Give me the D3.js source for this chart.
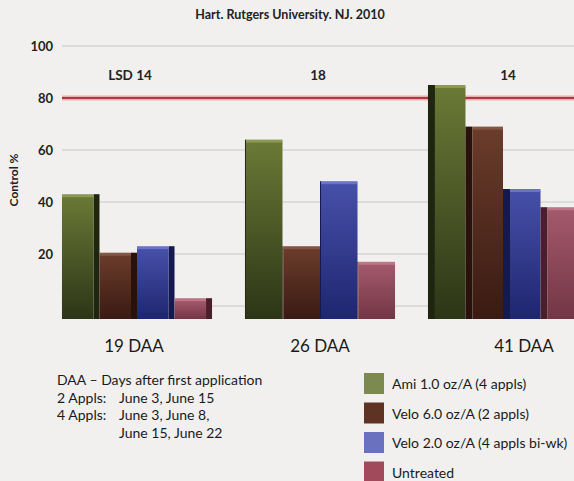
<!DOCTYPE html>
<html><head><meta charset="utf-8">
<script src="https://cdn.jsdelivr.net/npm/d3@7"></script>
<style>body{margin:0;background:#f1f0ee;}svg{display:block;font-family:Lato,"Open Sans",sans-serif;}</style>
</head><body><svg id="c" width="574" height="481"></svg>
<script>
const groups = ["19 DAA", "26 DAA", "41 DAA"];
const series = ["Ami 1.0 oz/A (4 appls)", "Velo 6.0 oz/A (2 appls)", "Velo 2.0 oz/A (4 appls bi-wk)", "Untreated"];
const ami = [43, 64, 85];
const velo6 = [20.5, 23, 69];
const velo2 = [23, 48, 45];
const untreated = [3, 17, 38];
const lsd = ["LSD 14", "18", "14"];
const yTicks = [20, 40, 60, 80, 100];
const refLine = 80;
const notes = [["DAA \u2013 Days after first application", ""], ["2 Appls:", "June 3, June 15"], ["4 Appls:", "June 3, June 8,"], ["", "June 15, June 22"]];

const values = [ami, velo6, velo2, untreated];
const front = [["#6a7936", "#2c3516"], ["#6a3c2b", "#3a1a12"], ["#4650a8", "#1e2670"], ["#a4596c", "#723646"]];
const sideC = ["#1f260f", "#2a120c", "#141a50", "#4a1e2a"];
const topC = ["#8a9a55", "#855644", "#6a74c4", "#bd7587"];
const legendC = ["#7d8a4f", "#5e3324", "#6a72c0", "#a14a5b"];

const svg = d3.select("#c");
const y = d3.scaleLinear().domain([0, 100]).range([306, 46]);
const base = 319;
const x0 = d3.scaleBand().domain(groups).range([45.5, 594.5]).paddingInner(0.18).paddingOuter(0.09);
const x1 = d3.scaleBand().domain(series).range([0, x0.bandwidth()]).padding(0);

const defs = svg.append("defs");
front.forEach((c, i) => {
  const g = defs.append("linearGradient").attr("id", "g" + i).attr("x1", 0).attr("y1", 0).attr("x2", 0).attr("y2", 1);
  g.append("stop").attr("offset", 0).attr("stop-color", c[0]);
  g.append("stop").attr("offset", 1).attr("stop-color", c[1]);
});

svg.append("text").attr("x", 290).attr("y", 19).attr("text-anchor", "middle")
  .attr("font-size", 12.5).attr("font-weight", 700).attr("fill", "#222").text("Hart. Rutgers University. NJ. 2010");

const gridTicks = [0].concat(yTicks);
svg.append("g").selectAll("line").data(gridTicks).join("line")
  .attr("x1", 62).attr("x2", 574).attr("y1", d => y(d)).attr("y2", d => y(d))
  .attr("stroke", d => d === refLine ? "none" : "#c9c8c6").attr("stroke-width", 1);

svg.append("g").selectAll("text").data(yTicks).join("text")
  .attr("x", 53).attr("y", d => y(d) + 4.5).attr("text-anchor", "end")
  .attr("font-size", 13).attr("font-weight", 700).attr("fill", "#222").text(d => d);

svg.append("text").attr("transform", "translate(18,180) rotate(-90)").attr("text-anchor", "middle")
  .attr("font-size", 12).attr("font-weight", 700).attr("fill", "#222").text("Control %");

svg.append("line").attr("x1", 62).attr("x2", 574).attr("y1", y(refLine)).attr("y2", y(refLine))
  .attr("stroke", "#e8b0b4").attr("stroke-width", 5);
svg.append("line").attr("x1", 62).attr("x2", 574).attr("y1", y(refLine)).attr("y2", y(refLine))
  .attr("stroke", "#b5353f").attr("stroke-width", 2);

svg.append("g").selectAll("text").data(groups).join("text")
  .attr("x", (d, i) => x0(d) + x0.bandwidth() / 2 - (i === 0 ? 7 : i === 2 ? -5 : 2))
  .attr("y", 80).attr("text-anchor", "middle").attr("font-size", 13.5).attr("font-weight", 700).attr("fill", "#222")
  .text((d, i) => lsd[i]);

const sideW = [6, 1, 7];
groups.forEach((g, gi) => {
  series.forEach((s, si) => {
    const v = values[si][gi];
    const bx = x0(g) + x1(s);
    const bw = x1.bandwidth();
    const top = y(v);
    const gg = svg.append("g");
    const sw = sideW[gi];
    let fx = bx, fw = bw - sw, sx;
    if (gi === 0) { sx = bx + bw - sw; }
    else { sx = bx; fx = bx + sw; }
    gg.append("rect").attr("x", sx).attr("y", top).attr("width", sw).attr("height", base - top).attr("fill", sideC[si]);
    gg.append("rect").attr("x", fx).attr("y", top + 2).attr("width", fw).attr("height", base - top - 2).attr("fill", `url(#g${si})`);
    gg.append("rect").attr("x", fx).attr("y", top).attr("width", fw).attr("height", 3).attr("fill", topC[si]);
  });
});

svg.append("g").selectAll("text").data(groups).join("text")
  .attr("x", (d, i) => x0(d) + x0.bandwidth() / 2 + (i === 0 ? -3 : i === 2 ? 21 : 0))
  .attr("y", 352).attr("text-anchor", "middle").attr("font-size", 17).attr("fill", "#1a1a1a").text(d => d);

const nt = svg.append("g").attr("font-size", 14).attr("fill", "#1a1a1a");
notes.forEach((n, i) => {
  const yy = 385 + i * 17.5;
  nt.append("text").attr("x", 57).attr("y", yy).text(n[0]);
  if (n[1]) nt.append("text").attr("x", 119).attr("y", yy).text(n[1]);
});

const lg = svg.append("g");
series.forEach((s, i) => {
  const yy = 373 + i * 29.5;
  lg.append("rect").attr("x", 364).attr("y", yy).attr("width", 20).attr("height", 21).attr("fill", legendC[i]);
  lg.append("text").attr("x", 392).attr("y", yy + 16).attr("font-size", 14).attr("fill", "#1a1a1a").text(s);
});
</script></body></html>
